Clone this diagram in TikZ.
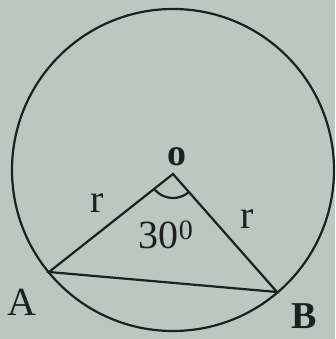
\documentclass[tikz,border=0pt]{standalone}
\usepackage{fontspec}
\setmainfont{Liberation Serif}
\definecolor{paper}{RGB}{188,199,193}
\definecolor{ink}{RGB}{28,32,30}
\tikzset{
  geo/.style={draw=ink, line width=2.2pt},
  lbl/.style={text=ink, inner sep=0pt, font=\fontsize{40}{48}\selectfont},
}
\begin{document}
\begin{tikzpicture}[x=1pt,y=1pt]
\fill[paper] (0,0) rectangle (335,339);
\useasboundingbox (0,0) rectangle (335,339);
\coordinate (C) at (173,169);
\coordinate (O) at (173,165);
\coordinate (A) at (49,67);
\coordinate (B) at (277,47);
\draw[geo] (C) circle (161);
\draw[geo] (A) -- (O) -- (B) -- cycle;
\draw[geo] ([shift={(218.3:24)}]O) arc (218.3:311.4:24);
\node[lbl, font=\bfseries\fontsize{38}{46}\selectfont] (lo) at (177,182) {o};
\node[lbl] (lr1) at (97,136) {r};
\node[lbl] (lr2) at (247,120) {r};
\node[lbl] (lang) at (166,104) {30\textsuperscript{0}};
\node[lbl] (lA) at (22,37) {A};
\node[lbl, font=\bfseries\fontsize{38}{46}\selectfont] (lB) at (304,23) {B};
\end{tikzpicture}
\end{document}
